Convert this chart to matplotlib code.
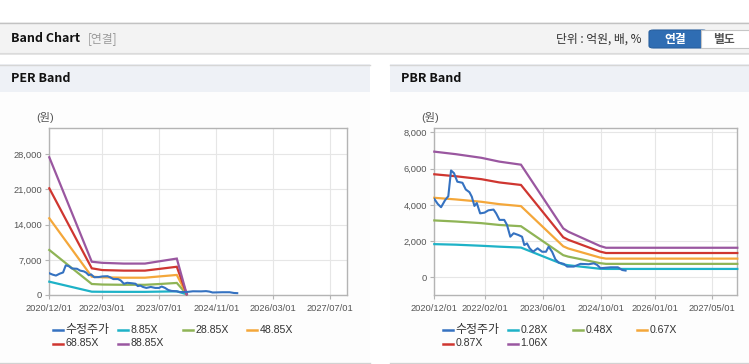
import matplotlib
matplotlib.use('Agg')
import pandas as pd
import matplotlib.pyplot as plt
from matplotlib.patches import Rectangle, FancyBboxPatch
from matplotlib.lines import Line2D

plt.rcParams['font.family'] = ['Liberation Sans', 'Noto Sans CJK KR']

W, H = 749, 364

# 수정주가 (shared by both charts)
price_dates = ['2020-12-01', '2020-12-30', '2021-01-27', '2021-03-01', '2021-03-29', '2021-04-21',
               '2021-05-16', '2021-06-13', '2021-07-26', '2021-08-23', '2021-09-23', '2021-10-13',
               '2021-11-04', '2021-11-24', '2021-12-22', '2022-01-28', '2022-03-02', '2022-04-14',
               '2022-05-06', '2022-06-03', '2022-07-13', '2022-08-05', '2022-09-02', '2022-09-30',
               '2022-11-11', '2022-12-10', '2022-12-29', '2023-01-21', '2023-02-12', '2023-03-13',
               '2023-04-20', '2023-05-28', '2023-06-30', '2023-07-22', '2023-08-20', '2023-09-17',
               '2023-10-15', '2023-11-26', '2023-12-25', '2024-02-19', '2024-04-15', '2024-06-24',
               '2024-08-06', '2024-09-03', '2024-10-01', '2024-12-25', '2025-02-24', '2025-04-02',
               '2025-04-30']
price_vals = [4330, 4050, 3870, 4250, 4480, 5900,
              5750, 5280, 5220, 4850, 4700, 4450,
              3940, 4100, 3530, 3570, 3700, 3740,
              3530, 3170, 3170, 2900, 2240, 2430,
              2330, 2240, 1780, 1870, 1600, 1410,
              1600, 1410, 1410, 1690, 1410, 990,
              810, 740, 590, 590, 740, 720,
              770, 680, 500, 550, 550, 400,
              370]

# PER band
per_dates = ['2020-12-01', '2021-11-30', '2022-03-01', '2022-09-01', '2023-03-01',
             '2023-07-01', '2023-11-29', '2024-02-22']
per_885 = [2650, 660, 640, 625, 625, 670, 730, 150]
per_2885 = [8960, 2190, 2080, 2030, 2030, 2180, 2400, 150]
per_4885 = [15270, 3650, 3520, 3440, 3440, 3690, 3990, 150]
per_6885 = [21230, 5310, 4960, 4850, 4850, 5190, 5620, 150]
per_8885 = [27400, 6620, 6400, 6250, 6250, 6700, 7250, 150]
per_labels = ['수정주가', '8.85X', '28.85X', '48.85X', '68.85X', '88.85X']
per_ticks = ['2020/12/01', '2022/03/01', '2023/07/01', '2024/11/01', '2026/03/01', '2027/07/01']

# PBR band
pbr_dates = ['2020-12-01', '2021-06-01', '2022-01-01', '2022-06-01', '2022-12-01',
             '2023-11-22', '2024-01-03', '2024-09-26', '2024-11-16', '2027-11-27']
pbr_028 = [1830, 1800, 1740, 1690, 1640, 710, 665, 470, 460, 460]
pbr_048 = [3140, 3080, 2990, 2890, 2820, 1220, 1140, 780, 740, 740]
pbr_067 = [4390, 4300, 4170, 4040, 3930, 1710, 1590, 1090, 1030, 1030]
pbr_087 = [5690, 5580, 5420, 5240, 5100, 2210, 2070, 1420, 1340, 1340]
pbr_106 = [6940, 6800, 6600, 6390, 6220, 2700, 2520, 1730, 1630, 1630]
pbr_labels = ['수정주가', '0.28X', '0.48X', '0.67X', '0.87X', '1.06X']
pbr_ticks = ['2020/12/01', '2022/02/01', '2023/06/01', '2024/10/01', '2026/01/01', '2027/05/01']

colors = ['#3572c1', '#1eb2c7', '#8fb456', '#f4a73a', '#cf3630', '#9a57a0']
x_start, x_end = pd.Timestamp('2020-12-01'), pd.Timestamp('2027-11-27')


def fx(x):
    return x / W


def fy(y):
    return 1 - y / H


def box(fig, x0, y0, x1, y1, color, z=-2):
    fig.add_artist(Rectangle((fx(x0), fy(y1)), fx(x1) - fx(x0), fy(y0) - fy(y1),
                             transform=fig.transFigure, facecolor=color, edgecolor='none',
                             zorder=z))


def hline(fig, x0, x1, y, color, lw=0.8):
    fig.add_artist(Line2D([fx(x0), fx(x1)], [fy(y), fy(y)], transform=fig.transFigure,
                          color=color, lw=lw, zorder=-1))


def band_chart(ax, bands_dates, bands, ticks, ylim, yticks):
    p = pd.to_datetime(price_dates)
    d = pd.to_datetime(bands_dates)
    for vals, c in zip(bands, colors[1:]):
        ax.plot(d, vals, color=c, lw=1.6, solid_joinstyle='miter', zorder=3, clip_on=False)
    ax.plot(p, price_vals, color=colors[0], lw=1.5, zorder=4)
    ax.set_xlim(x_start, x_end)
    ax.set_ylim(*ylim)
    ax.set_yticks(yticks)
    ax.set_yticklabels([f'{v:,}' for v in yticks])
    ax.set_xticks(pd.to_datetime(ticks))
    ax.set_xticklabels(ticks)
    ax.grid(True, color='#e6e6e6', lw=0.8)
    ax.set_axisbelow(True)
    for s in ax.spines.values():
        s.set_color('#b4b4b4')
        s.set_linewidth(1.0)
    ax.tick_params(colors='#b4b4b4', labelcolor='#555555', labelsize=6.7, length=3, width=0.8)
    ax.tick_params(axis='x', pad=3.5)
    ax.tick_params(axis='y', pad=2)
    ax.set_facecolor('white')


def legend(fig, labels, line_x, rows_y):
    slots = [(x, rows_y[0]) for x in line_x] + [(x, rows_y[1]) for x in line_x[:2]]
    for (x, y), lab, c in zip(slots, labels, colors):
        fig.add_artist(Line2D([fx(x), fx(x + 10)], [fy(y), fy(y)], transform=fig.transFigure,
                              color=c, lw=1.8))
        size = 8.6 if lab == '수정주가' else 7.6
        fig.text(fx(x + 12.5), fy(y), lab, fontsize=size, color='#333333', va='center', ha='left')


fig = plt.figure(figsize=(W / 100, H / 100), dpi=100)
fig.patch.set_facecolor('white')

# top header
box(fig, 0, 22, W, 52, '#f3f3f3')
hline(fig, 0, W, 22.5, '#c2c2c2', 1.0)
hline(fig, 0, W, 52.5, '#b9b9b9', 1.0)
hline(fig, 0, W, 54, '#e2e2e2', 1.2)
fig.text(fx(11), fy(39), 'Band Chart', fontsize=9, fontweight='bold', color='#111111', va='center',
         family=['Noto Sans CJK KR'])
fig.text(fx(88), fy(39), '[연결]', fontsize=8.5, color='#9a9a9a', va='center', family=['Noto Sans CJK KR'])
fig.text(fx(642), fy(39), '단위 : 억원, 배, %', fontsize=8.5, color='#333333', va='center', ha='right',
         family=['Noto Sans CJK KR'])
fig.add_artist(FancyBboxPatch((fx(649), fy(48)), fx(58), fy(30) - fy(48),
                              boxstyle='round,pad=0,rounding_size=0.006', transform=fig.transFigure,
                              facecolor='#2f6db3', edgecolor='#285f9e', lw=0.8, zorder=1))
fig.add_artist(Rectangle((fx(701), fy(48)), fx(60), fy(30) - fy(48), transform=fig.transFigure,
                         facecolor='white', edgecolor='#c6c6c6', lw=0.8, zorder=1.5))
fig.text(fx(675), fy(39.5), '연결', fontsize=8.5, fontweight='bold', color='white', va='center', ha='center',
         family=['Noto Sans CJK KR'])
fig.text(fx(724), fy(39.5), '별도', fontsize=8.5, fontweight='bold', color='#555555', va='center', ha='center',
         family=['Noto Sans CJK KR'])

# panels
for x0, x1, title in [(0, 370, 'PER Band'), (390, W, 'PBR Band')]:
    box(fig, x0, 64, x1, 92, '#eef1f6')
    box(fig, x0, 92, x1, 362, '#fdfdfd')
    hline(fig, x0, x1, 64.5, '#d6d6d6', 1.0)
    hline(fig, x0, x1, 362.5, '#d2d2d2', 1.0)
    fig.text(fx(x0 + 11), fy(79), title, fontsize=9, fontweight='bold', color='#111111', va='center',
             family=['Noto Sans CJK KR'])

ax1 = fig.add_axes([fx(49.3), fy(295), fx(347) - fx(49.3), fy(128) - fy(295)])
band_chart(ax1, per_dates, [per_885, per_2885, per_4885, per_6885, per_8885], per_ticks,
           (0, 33230), [0, 7000, 14000, 21000, 28000])
ax2 = fig.add_axes([fx(434.3), fy(295), fx(737.3) - fx(434.3), fy(128.3) - fy(295)])
band_chart(ax2, pbr_dates, [pbr_028, pbr_048, pbr_067, pbr_087, pbr_106], pbr_ticks,
           (-980, 8230), [0, 2000, 4000, 6000, 8000])

fig.text(fx(45), fy(118), '(원)', fontsize=8, color='#555555', va='center', ha='center')
fig.text(fx(430), fy(118), '(원)', fontsize=8, color='#555555', va='center', ha='center')

legend(fig, per_labels, [53, 118, 183, 247], [330, 343.5])
legend(fig, pbr_labels, [442.7, 507.7, 572.7, 637], [330, 343.5])

fig.savefig('out.png', dpi=100)
